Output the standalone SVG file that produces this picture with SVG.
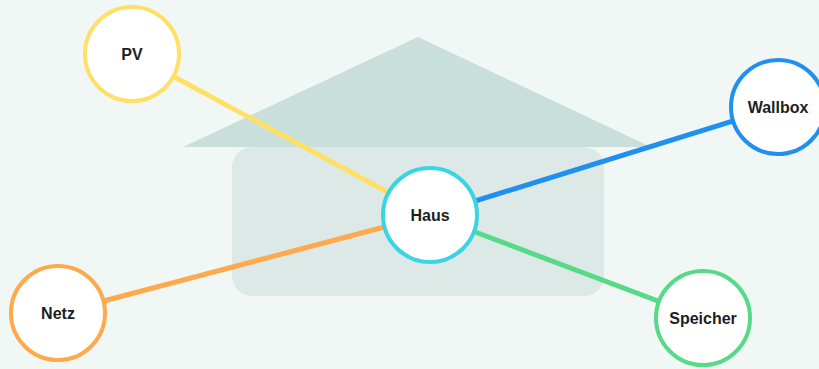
<svg xmlns="http://www.w3.org/2000/svg" width="819" height="369" viewBox="0 0 819 369">
<style>
.bg{fill:#f1f7f5}
.roof{fill:#c8dfdb}
.body{fill:#dce9e6}
.node{fill:#ffffff;stroke-width:4}
.lbl{font-family:"Liberation Sans",Arial,Helvetica,sans-serif;font-weight:bold;font-size:16px;fill:#1b1f23;text-anchor:middle}
.edge{stroke-width:5;fill:none}
</style>
<rect class="bg" x="0" y="0" width="819" height="369"/>
<g id="house">
<polygon class="roof" points="183,147 418,37 651,147"/>
<rect class="body" x="232" y="147" width="372" height="149" rx="20" ry="20"/>
</g>
<g id="connectors">
<line class="edge" x1="132" y1="54" x2="430" y2="215" stroke="#ffe066"/>
<line class="edge" x1="430" y1="215" x2="778" y2="107" stroke="#1f8ff0"/>
<line class="edge" x1="58" y1="313" x2="430" y2="215" stroke="#ffa94d"/>
<line class="edge" x1="430" y1="215" x2="703" y2="318" stroke="#57da88"/>
</g>
<g id="pv">
<circle class="node" cx="132" cy="54" r="47" stroke="#ffe066"/>
<text class="lbl" x="132" y="60">PV</text>
</g>
<g id="wallbox">
<circle class="node" cx="778" cy="107" r="47" stroke="#1f8ff0"/>
<text class="lbl" x="778" y="113">Wallbox</text>
</g>
<g id="haus">
<circle class="node" cx="430" cy="215" r="47" stroke="#3bd4e3"/>
<text class="lbl" x="430" y="221">Haus</text>
</g>
<g id="netz">
<circle class="node" cx="58" cy="313" r="47" stroke="#ffa94d"/>
<text class="lbl" x="58" y="319">Netz</text>
</g>
<g id="speicher">
<circle class="node" cx="703" cy="318" r="47" stroke="#57da88"/>
<text class="lbl" x="703" y="324">Speicher</text>
</g>
</svg>
